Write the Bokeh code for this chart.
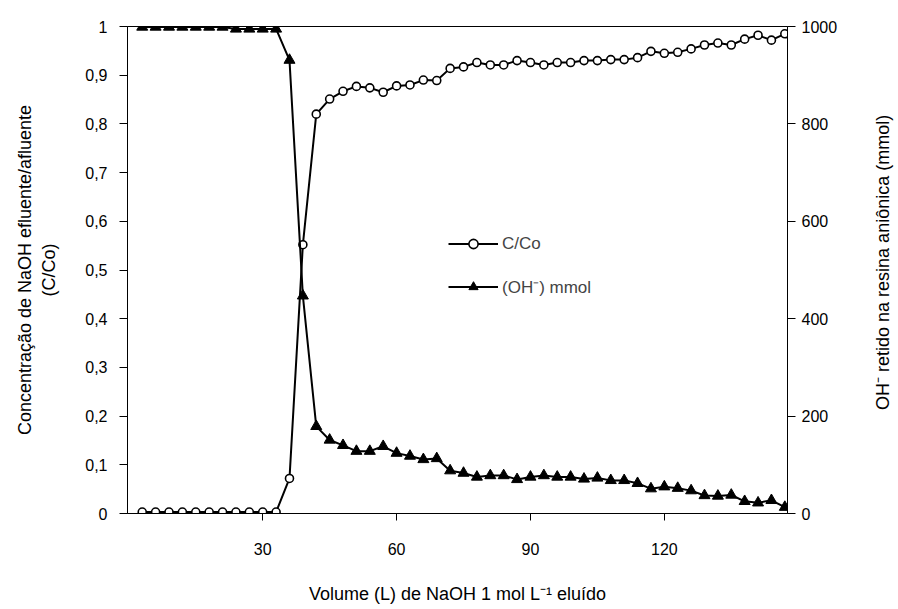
import math
from bokeh.plotting import figure
from bokeh.layouts import row
from bokeh.models import Range1d, LinearAxis, FixedTicker, Legend, LegendItem
from bokeh.core.properties import value
from bokeh.embed import file_html
from bokeh.resources import INLINE

# Volume (L) of 1 mol/L NaOH eluted
volume = [3, 6, 9, 12, 15, 18, 21, 24, 27, 30, 33, 36, 39, 42, 45, 48, 51, 54, 57, 60,
          63, 66, 69, 72, 75, 78, 81, 84, 87, 90, 93, 96, 99, 102, 105, 108, 111, 114,
          117, 120, 123, 126, 129, 132, 135, 138, 141, 144, 147]

# C/Co (left axis)
c_co = [0.003, 0.003, 0.003, 0.003, 0.003, 0.003, 0.003, 0.003, 0.003, 0.003, 0.003,
        0.072, 0.552, 0.820, 0.851, 0.867, 0.877, 0.874, 0.865, 0.878, 0.880, 0.890,
        0.889, 0.914, 0.917, 0.926, 0.921, 0.921, 0.930, 0.926, 0.921, 0.926, 0.926,
        0.930, 0.930, 0.932, 0.932, 0.936, 0.949, 0.945, 0.947, 0.954, 0.962, 0.966,
        0.962, 0.974, 0.982, 0.972, 0.985]

# OH- retained on the anionic resin (mmol, right axis)
oh_mmol = [999, 999, 999, 999, 999, 999, 999, 995, 995, 995, 995,
           931, 447, 179, 151, 140, 128, 128, 138, 124, 118, 111,
           113, 88, 83, 75, 78, 78, 70, 75, 78, 75, 75,
           71, 73, 68, 68, 62, 51, 55, 52, 47, 37, 36,
           38, 25, 22, 27, 13]

x_ticks = [30, 60, 90, 120]
left_ticks = [0, 0.1, 0.2, 0.3, 0.4, 0.5, 0.6, 0.7, 0.8, 0.9, 1]
left_tick_labels = ["0", "0,1", "0,2", "0,3", "0,4", "0,5", "0,6", "0,7", "0,8", "0,9", "1"]
right_ticks = [0, 200, 400, 600, 800, 1000]
right_title = "OH\u207b retido na resina aniônica (mmol)"

FONT = "Liberation Sans"

p = figure(width=850, height=609, output_backend="svg", toolbar_location=None,
           x_range=Range1d(-0.3, 147.6), y_range=Range1d(0, 1),
           min_border_left=127, min_border_right=63, min_border_top=26,
           min_border_bottom=96)
p.extra_y_ranges = {"oh": Range1d(0, 1000)}
p.grid.visible = False
p.outline_line_color = "black"
p.outline_line_width = 1
p.background_fill_color = "white"
p.border_fill_color = "white"

# x axis
xa = p.xaxis[0]
xa.ticker = FixedTicker(ticks=x_ticks)
xa.minor_tick_line_color = None
xa.major_tick_in = 0
xa.major_tick_out = 7
xa.major_label_standoff = 22
xa.axis_label = "Volume (L) de NaOH 1 mol L\u207b\u00b9 eluído"
xa.axis_label_standoff = 26

# left axis
ya = p.yaxis[0]
ya.ticker = FixedTicker(ticks=left_ticks)
ya.major_label_overrides = dict(zip(left_ticks, left_tick_labels))
ya.minor_tick_line_color = None
ya.major_tick_in = 0
ya.major_tick_out = 8
ya.major_label_standoff = 12
ya.axis_label = "Concentração de NaOH efluente/afluente\n(C/Co)"
ya.axis_label_standoff = 23

# right axis (ticks and numbers)
ra = LinearAxis(y_range_name="oh", ticker=FixedTicker(ticks=right_ticks))
ra.minor_tick_line_color = None
ra.major_tick_in = 0
ra.major_tick_out = 8
ra.major_label_standoff = 6
p.add_layout(ra, "right")

for ax in [xa, ya, ra]:
    ax.axis_line_color = "black"
    ax.major_tick_line_color = "black"
    ax.major_label_text_font = FONT
    ax.major_label_text_font_size = "16px"
    ax.major_label_text_color = "black"
    ax.axis_label_text_font = FONT
    ax.axis_label_text_font_size = "18px"
    ax.axis_label_text_font_style = "normal"
    ax.axis_label_text_color = "black"

# series
l1 = p.line(volume, c_co, line_color="black", line_width=2)
s1 = p.scatter(volume, c_co, marker="circle", size=8, fill_color="white",
               line_color="black", line_width=1.6)
l2 = p.line(volume, oh_mmol, line_color="black", line_width=2, y_range_name="oh")
s2 = p.scatter(volume, oh_mmol, marker="triangle", size=11, fill_color="black",
               line_color="black", y_range_name="oh")

legend = Legend(items=[LegendItem(label="C/Co", renderers=[l1, s1]),
                       LegendItem(label="(OH\u207b) mmol", renderers=[l2, s2])],
                location=(321, 215), orientation="vertical",
                glyph_width=50, glyph_height=23, label_height=23, spacing=20,
                padding=0, margin=0, label_standoff=4,
                label_text_font=FONT, label_text_font_size="17px",
                border_line_alpha=0, background_fill_alpha=0)
p.add_layout(legend, "center")

# narrow strip on the right carrying the right-axis title (reads bottom-to-top)
side = figure(width=48, height=609, output_backend="svg", toolbar_location=None,
              x_range=Range1d(0, 1), y_range=Range1d(0, 609),
              x_axis_location=None, y_axis_location=None,
              min_border_left=0, min_border_right=0, min_border_top=0,
              min_border_bottom=0)
side.grid.visible = False
side.outline_line_color = None
side.background_fill_color = "white"
side.border_fill_color = "white"
side.text(x=[0.67], y=[314], text=[right_title], angle=math.pi / 2,
          text_align="center", text_baseline="middle",
          text_font=value(FONT), text_font_size="18px", text_color="black")

layout = row(p, side, spacing=0)
open("out.html", "w").write(file_html(layout, INLINE))
